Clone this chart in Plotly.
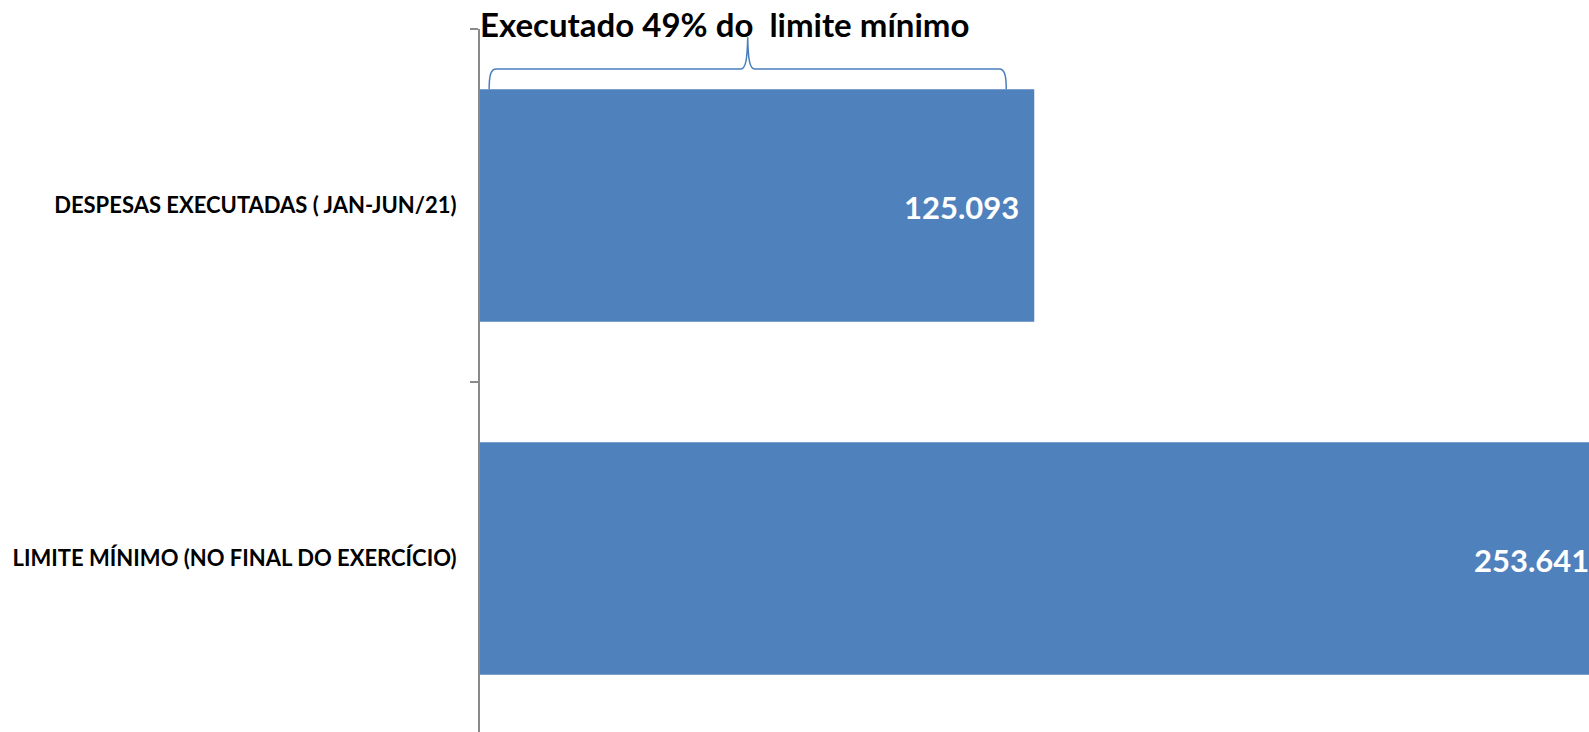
import plotly.graph_objects as go

categories = ["DESPESAS EXECUTADAS ( JAN-JUN/21)", "LIMITE MÍNIMO (NO FINAL DO EXERCÍCIO)"]
values = [125.093, 253.641]
value_labels = ["125.093", "253.641"]
title_text = "Executado 49% do  limite mínimo"

BAR_COLOR = "#4F81BD"
BRACE_COLOR = "#4A7EBB"
AXIS_COLOR = "#8A8A8A"
FONT = "Lato"

W, H = 1589, 732
ML, MT = 480, 29
x_max = 250.3
y_range = [1.4915, -0.5]
bar_width = 0.658
plot_w = W - ML
px_per_unit = plot_w / x_max

fig = go.Figure()
fig.add_trace(go.Bar(
    y=categories, x=values, orientation="h",
    marker=dict(color=BAR_COLOR, line=dict(width=0)),
    width=bar_width, hoverinfo="skip",
))

# value labels (anchored at the bar end, clamped to the visible range)
for i, (v, lab) in enumerate(zip(values, value_labels)):
    xv = min(v, x_max)
    shift = -13 + (v - xv) * px_per_unit
    fig.add_annotation(x=xv, y=categories[i], xref="x", yref="y", text=lab,
                       showarrow=False, xanchor="right", yanchor="middle", xshift=shift,
                       yshift=-1,
                       font=dict(family=FONT, size=31, color="white", weight="bold"))

# title
fig.add_annotation(x=0, y=1, xref="paper", yref="paper", text=title_text,
                   showarrow=False, xanchor="left", yanchor="bottom", yshift=-17,
                   xshift=-2,
                   font=dict(family=FONT, size=33, color="black", weight="bold"))

# curly brace above the executed bar
def ypaper(yv):
    return (y_range[0] - yv) / (y_range[0] - y_range[1])

v1 = values[0]
bx0 = v1 * 0.0165
bx1 = v1 * 0.9495
bm = (bx0 + bx1) / 2
yb = ypaper(-bar_width / 2)
yl = ypaper(-0.3867)
yt = ypaper(-0.4765)
yc = ypaper(-0.37)
dx = 1.6
path = (f"M {bx0},{yb} C {bx0},{yc} {bx0+0.4},{yl} {bx0+dx},{yl} "
        f"L {bm-dx},{yl} C {bm-0.5},{yl} {bm-0.1},{ypaper(-0.41)} {bm},{yt} "
        f"C {bm+0.1},{ypaper(-0.41)} {bm+0.5},{yl} {bm+dx},{yl} "
        f"L {bx1-dx},{yl} C {bx1-0.4},{yl} {bx1},{yc} {bx1},{yb}")
fig.add_shape(type="path", path=path, xref="x", yref="paper",
              line=dict(color=BRACE_COLOR, width=1.5))

fig.update_layout(
    width=W, height=H,
    margin=dict(l=ML, r=0, t=MT, b=0, pad=0),
    paper_bgcolor="white", plot_bgcolor="white",
    showlegend=False,
    xaxis=dict(range=[0, x_max], visible=False, showgrid=False, zeroline=False),
    yaxis=dict(range=y_range, type="category", showgrid=False, zeroline=False,
               showline=True, linecolor=AXIS_COLOR, linewidth=2,
               ticks="outside", ticklen=8, tickcolor=AXIS_COLOR, tickwidth=2,
               tickson="boundaries", ticklabelstandoff=17,
               tickfont=dict(family=FONT, size=22, color="black", weight="bold")),
)

fig.write_html(
    "out.html",
    config={"displayModeBar": False, "staticPlot": True},
    post_script="document.body.style.margin='0';document.body.style.overflow='hidden';",
)
